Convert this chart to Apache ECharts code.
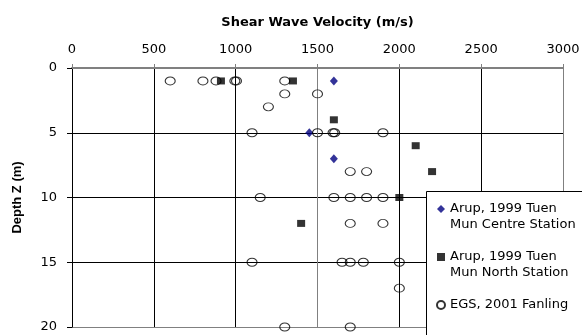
<!DOCTYPE html>
<html>
<head>
<meta charset="utf-8">
<script src="https://cdn.jsdelivr.net/npm/echarts@6/dist/echarts.min.js"></script>
<style>html,body{margin:0;padding:0;background:#fff;}#c{width:582px;height:335px;}</style>
</head>
<body>
<div id="c"></div>
<script>
// Tick labels / axis ranges
const xTicks = [0, 500, 1000, 1500, 2000, 2500, 3000];
const yTicks = [0, 5, 10, 15, 20];

// Series names
const seriesNames = [
  'Arup, 1999 Tuen\nMun Centre Station',
  'Arup, 1999 Tuen\nMun North Station',
  'EGS, 2001 Fanling'
];

// [velocity m/s, depth m]
const centreStation = [[1600, 1], [1450, 5], [1600, 7]];
const northStation = [[910, 1], [1350, 1], [1600, 4], [2100, 6], [2200, 8], [2000, 10], [1400, 12]];
const egsFanling = [
  [600, 1], [800, 1], [880, 1], [995, 1], [1005, 1], [1300, 1],
  [1300, 2], [1500, 2],
  [1200, 3],
  [1100, 5], [1500, 5], [1595, 5], [1605, 5], [1900, 5],
  [1700, 8], [1800, 8],
  [1150, 10], [1600, 10], [1700, 10], [1800, 10], [1900, 10],
  [1700, 12], [1900, 12],
  [1100, 15], [1650, 15], [1700, 15], [1780, 15], [2000, 15],
  [2000, 17],
  [1300, 20], [1700, 20]
];

const chart = echarts.init(document.getElementById('c'), null, {renderer: 'canvas'});
const FONT = 'DejaVu Sans';
const option = {
  animation: false,
  backgroundColor: '#fff',
  grid: {left: 72, top: 68, right: 19, bottom: 8, containLabel: false, outerBoundsMode: 'none'},
  xAxis: {
    type: 'value', position: 'top',
    min: xTicks[0], max: xTicks[xTicks.length - 1], interval: xTicks[1] - xTicks[0],
    name: 'Shear Wave Velocity (m/s)', nameLocation: 'middle', nameGap: 39,
    nameTextStyle: {fontFamily: FONT, fontWeight: 'bold', fontSize: 13, color: '#000'},
    axisLine: {show: true, lineStyle: {color: '#808080', width: 2}},
    axisTick: {show: true, inside: false, length: 4, lineStyle: {color: '#808080'}},
    axisLabel: {margin: 12, fontFamily: FONT, fontSize: 13, color: '#000', formatter: v => String(v)},
    splitLine: {show: true, lineStyle: {color: ['#808080', '#000', '#000', '#808080', '#000', '#000', '#808080'], width: 1}}
  },
  yAxis: {
    type: 'value', inverse: true,
    min: yTicks[0], max: yTicks[yTicks.length - 1], interval: yTicks[1] - yTicks[0],
    name: 'Depth Z (m)', nameLocation: 'middle', nameGap: 48, nameRotate: 90,
    nameTextStyle: {fontFamily: 'Liberation Sans', fontWeight: 'bold', fontSize: 13, color: '#000'},
    axisLine: {show: true, onZero: false, lineStyle: {color: '#000', width: 1}},
    axisTick: {show: true, inside: false, length: 5, lineStyle: {color: '#000'}},
    axisLabel: {margin: 15, fontFamily: FONT, fontSize: 13, color: '#000', formatter: v => String(v)},
    splitLine: {show: true, lineStyle: {color: ['#808080', '#000', '#000', '#000', '#808080'], width: 1}}
  },
  graphic: [{
    type: 'rect', z: 10, silent: true,
    shape: {x: 426.5, y: 191.5, width: 220, height: 200},
    style: {fill: '#fff', stroke: '#000', lineWidth: 1}
  }],
  legend: {
    orient: 'vertical', left: 436, top: 185, padding: 0, itemGap: 0,
    itemWidth: 8, itemHeight: 8, z: 20,
    textStyle: {fontFamily: FONT, fontSize: 13, color: '#000', lineHeight: 16},
    formatter: name => name.indexOf('\n') >= 0 ? '\n' + name : '\n' + name + '\n',
    data: seriesNames
  },
  series: [
    {
      name: seriesNames[0], type: 'scatter', data: centreStation,
      symbol: 'diamond', symbolSize: [8, 9],
      itemStyle: {color: '#000080'}
    },
    {
      name: seriesNames[1], type: 'scatter', data: northStation,
      symbol: 'rect', symbolSize: [8, 7],
      itemStyle: {color: '#000'}
    },
    {
      name: seriesNames[2], type: 'scatter', data: egsFanling,
      symbol: 'circle', symbolSize: [10, 8],
      itemStyle: {color: 'transparent', borderColor: '#000', borderWidth: 1}
    }
  ]
};
chart.setOption(option);
</script>
</body>
</html>
